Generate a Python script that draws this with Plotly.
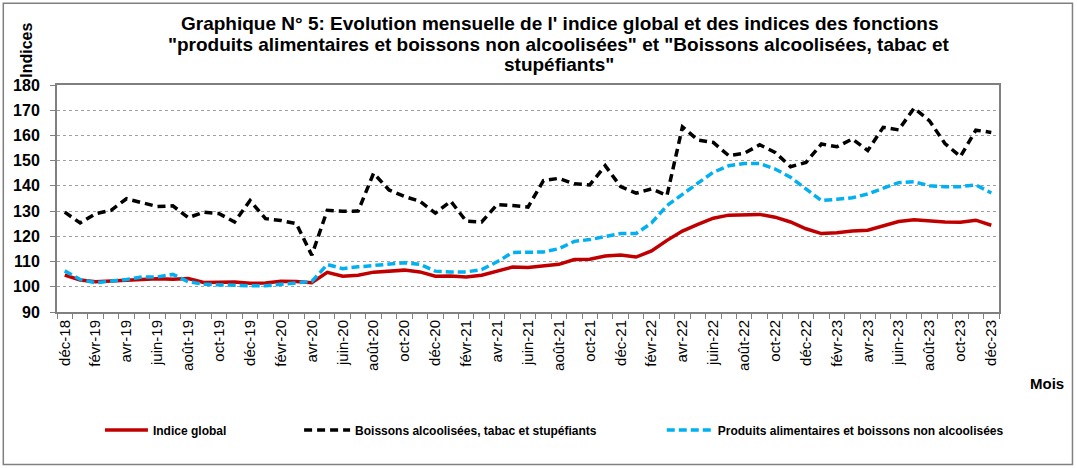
import plotly.graph_objects as go

# months déc-18 .. déc-23
month_names = ["janv", "févr", "mars", "avr", "mai", "juin",
               "juil", "août", "sept", "oct", "nov", "déc"]
months = ["déc-18"] + [f"{m}-{y}" for y in range(19, 24) for m in month_names]

indice_global = [104.6, 102.7, 102.0, 102.3, 102.6, 103.0, 103.2, 103.0, 103.3, 101.7,
                 101.7, 101.9, 101.4, 101.5, 102.2, 102.1, 101.6, 105.7, 104.2, 104.6,
                 105.8, 106.1, 106.6, 105.9, 104.2, 104.3, 103.9, 104.6, 106.3, 107.8,
                 107.6, 108.4, 108.9, 110.8, 110.9, 112.2, 112.6, 111.8, 114.2, 118.4,
                 122.1, 124.7, 127.2, 128.4, 128.6, 128.7, 127.6, 125.7, 123.0, 121.1,
                 121.4, 122.1, 122.4, 124.1, 125.9, 126.6, 126.1, 125.7, 125.6, 126.4,
                 124.4]

boissons_alcool = [129.6, 125.3, 129.0, 130.3, 134.9, 133.2, 131.8, 132.1, 127.4, 129.6,
                   129.0, 125.7, 134.2, 127.0, 126.3, 125.0, 112.5, 130.3, 129.9, 130.0,
                   145.0, 138.4, 135.8, 133.9, 129.2, 133.9, 126.0, 125.7, 132.6, 132.2,
                   131.6, 142.1, 143.0, 140.8, 140.4, 148.0, 139.7, 137.1, 138.8, 136.2,
                   163.4, 158.2, 157.2, 152.0, 152.9, 156.3, 153.3, 147.6, 149.3, 156.6,
                   155.5, 158.6, 154.0, 163.2, 162.2, 170.8, 165.8, 156.8, 151.6, 162.1,
                   161.2]

produits_alim = [106.3, 102.9, 101.6, 102.2, 102.9, 103.9, 103.9, 104.9, 102.0, 101.0,
                 100.8, 100.4, 100.4, 100.4, 101.0, 101.8, 102.1, 108.8, 107.2, 107.9,
                 108.4, 108.9, 109.5, 108.9, 106.2, 105.9, 105.9, 106.8, 109.9, 113.6,
                 113.6, 113.8, 115.1, 118.0, 118.7, 120.0, 121.1, 121.1, 125.3, 132.2,
                 136.8, 141.1, 145.4, 148.0, 148.9, 148.9, 146.7, 143.4, 138.8, 134.2,
                 134.7, 135.3, 136.8, 139.2, 141.3, 141.6, 140.1, 139.7, 139.7, 140.4,
                 137.2]

title_lines = ["Graphique N° 5: Evolution mensuelle de l' indice global et des indices des fonctions",
               "\"produits alimentaires et boissons non alcoolisées\" et \"Boissons alcoolisées, tabac et",
               "stupéfiants\""]

x = list(range(len(months)))

fig = go.Figure()
fig.add_trace(go.Scatter(x=x, y=indice_global, mode="lines", name="<b>Indice global</b>",
                         line=dict(color="#C00000", width=3.5), legend="legend",
                         showlegend=True))
fig.add_trace(go.Scatter(x=x, y=boissons_alcool, mode="lines",
                         name="<b>Boissons alcoolisées, tabac et stupéfiants</b>",
                         line=dict(color="black", width=3.5, dash="8px,5px"), legend="legend2",
                         showlegend=True))
fig.add_trace(go.Scatter(x=x, y=produits_alim, mode="lines",
                         name="<b>Produits alimentaires et boissons non alcoolisées</b>",
                         line=dict(color="#00B0F0", width=3.5, dash="8px,4px"), legend="legend3",
                         showlegend=True))

legend_font = dict(family="Liberation Sans Narrow, Arial Narrow, Liberation Sans", size=12, color="black")
leg = dict(orientation="h", yanchor="middle", y=-0.52, xanchor="left",
           font=legend_font, bgcolor="rgba(0,0,0,0)")

# title written line by line to get the tight line spacing of the original
title_ann = [dict(text=f"<b>{t}</b>", xref="paper", yref="paper", x=0.5334, y=yy,
                  xanchor="center", yanchor="middle", showarrow=False, font=dict(size=19))
             for t, yy in zip(title_lines, [1.27, 1.18, 1.092])]

fig.update_layout(
    width=1077, height=468,
    margin=dict(l=57, r=78, t=85, b=156),
    paper_bgcolor="white", plot_bgcolor="white",
    font=dict(family="Liberation Sans, Arial", color="black"),
    showlegend=True,
    legend=dict(leg, x=0.0456, itemwidth=43),
    legend2=dict(leg, x=0.257, itemwidth=46),
    legend3=dict(leg, x=0.642, itemwidth=46),
    xaxis=dict(range=[-0.5, 60.5], tickmode="array", tickvals=x[::2], ticktext=months[::2],
               tickangle=-90, tickfont=dict(size=15, family="Liberation Sans, Arial"),
               showgrid=False, zeroline=False, showline=True, linecolor="#808080",
               linewidth=2, mirror=True, ticks="",
               minor=dict(tickvals=[i - 0.5 for i in range(len(months) + 1)],
                          ticks="outside", ticklen=5, tickcolor="#808080", tickwidth=1)),
    yaxis=dict(range=[90, 180], dtick=10, tickfont=dict(size=16),
               tickprefix="<b>", ticksuffix="</b>", ticklabelstandoff=7,
               showgrid=True, gridcolor="#A0A0A0", griddash="dot", gridwidth=1,
               zeroline=False, showline=True, linecolor="#808080", linewidth=2,
               mirror=True, ticks="outside", ticklen=5, tickcolor="#808080"),
    annotations=title_ann + [
        dict(text="<b>Indices</b>", xref="paper", yref="paper", x=-0.0324, y=1.153,
             xanchor="center", yanchor="middle",
             textangle=-90, showarrow=False, font=dict(size=16)),
        dict(text="<b>Mois</b>", xref="paper", yref="paper", x=1.051, y=-0.317,
             xanchor="center", yanchor="middle", showarrow=False, font=dict(size=15)),
    ],
    shapes=[dict(type="rect", xref="paper", yref="paper", x0=-0.057, x1=1.078,
                 y0=-0.672, y1=1.36, line=dict(color="#808080", width=1.5))],
)

# page body has a default margin; drop it so the figure sits at the top-left corner
fig.write_html("out.html", config={"displayModeBar": False},
               post_script="document.body.style.margin='0';")
